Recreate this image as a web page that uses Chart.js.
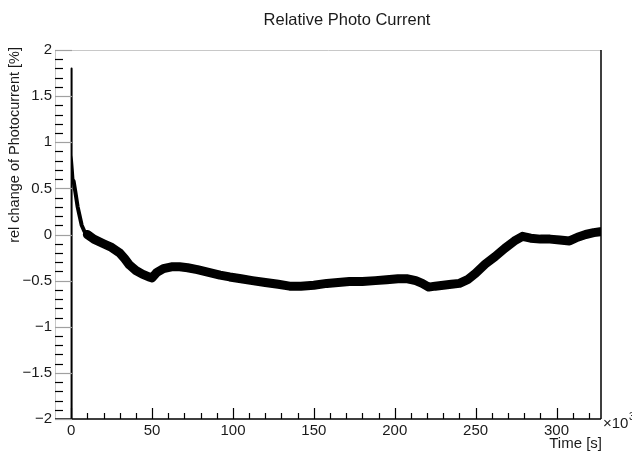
<!DOCTYPE html>
<html>
<head>
<meta charset="utf-8">
<script src="https://cdn.jsdelivr.net/npm/chart.js@4/dist/chart.umd.min.js"></script>
<style>
  html, body { margin: 0; padding: 0; background: #fff; }
  canvas { display: block; }
</style>
</head>
<body>
<canvas id="photoChart" width="632" height="454"></canvas>
<script>
// time in units of 10^3 s
const times = [0, 0, 0.5, 1, 1.5, 2.5, 4, 5, 6.5, 8, 10, 14, 20, 25, 30, 33, 36, 40, 44, 48,
  50, 53, 57, 62, 67, 72, 78, 85, 92, 98, 105, 112, 120, 128, 135, 142, 150, 158, 165, 172,
  180, 188, 195, 202, 208, 213, 217, 221, 225, 230, 235, 240, 245, 250, 256, 262, 268, 274,
  279, 284, 290, 296, 302, 308, 313, 318, 323, 327];
// relative change of photocurrent in %
const relChange = [-2.5, 1.8, 0.86, 0.7, 0.58, 0.47, 0.3, 0.22, 0.1, 0.04, 0.0, -0.05, -0.1, -0.14, -0.2, -0.26, -0.33, -0.39, -0.43, -0.46,
  -0.47, -0.41, -0.37, -0.35, -0.35, -0.36, -0.38, -0.41, -0.44, -0.46, -0.48, -0.5, -0.52, -0.54, -0.56, -0.56, -0.55, -0.53, -0.52, -0.51,
  -0.51, -0.5, -0.49, -0.48, -0.48, -0.5, -0.53, -0.57, -0.56, -0.55, -0.54, -0.53, -0.49, -0.42, -0.32, -0.24, -0.15, -0.07,
  -0.02, -0.04, -0.05, -0.05, -0.06, -0.07, -0.03, 0.0, 0.02, 0.03];

const xTicks = [0, 50, 100, 150, 200, 250, 300];
const yTicks = [-2, -1.5, -1, -0.5, 0, 0.5, 1, 1.5, 2];
const yTickLabels = ['\u22122', '\u22121.5', '\u22121', '\u22120.5', '0', '0.5', '1', '1.5', '2'];

const FONT = 'Liberation Sans, Arial, sans-serif';
const TEXT = '#1a1a1a';

// frame, inner ticks and titles, ROOT style
const rootFrame = {
  id: 'rootFrame',
  afterDraw(chart) {
    const { ctx, chartArea: a, scales: { x, y } } = chart;
    ctx.save();
    ctx.lineCap = 'butt';

    // frame
    ctx.lineWidth = 1;
    ctx.strokeStyle = '#c8c8c8';
    ctx.beginPath();
    ctx.moveTo(a.left + 0.5, a.bottom); ctx.lineTo(a.left + 0.5, a.top + 0.5);
    ctx.lineTo(a.right, a.top + 0.5);
    ctx.stroke();
    ctx.strokeStyle = '#000';
    ctx.lineWidth = 1.5;
    ctx.beginPath();
    ctx.moveTo(a.right, a.top); ctx.lineTo(a.right, a.bottom);
    ctx.moveTo(a.left, a.bottom); ctx.lineTo(a.right, a.bottom);
    ctx.stroke();

    // x ticks (major 50, minor 10)
    ctx.lineWidth = 1.2;
    ctx.strokeStyle = '#000';
    ctx.beginPath();
    for (let v = 0; v <= x.max; v += 10) {
      const px = Math.round(x.getPixelForValue(v)) + 0.5;
      const len = v % 50 === 0 ? 11 : 6;
      ctx.moveTo(px, a.bottom); ctx.lineTo(px, a.bottom - len);
    }
    ctx.stroke();

    // y ticks (major 0.5 gray, minor 0.1 black)
    for (let i = -20; i <= 20; i++) {
      const py = Math.round(y.getPixelForValue(i / 10)) + 0.5;
      const major = i % 5 === 0;
      ctx.strokeStyle = major ? '#a0a0a0' : '#000';
      ctx.beginPath();
      ctx.moveTo(a.left, py); ctx.lineTo(a.left + (major ? 17 : 8), py);
      ctx.stroke();
    }

    // titles
    ctx.fillStyle = TEXT;
    ctx.font = '16.5px ' + FONT;
    ctx.textAlign = 'center';
    ctx.textBaseline = 'middle';
    ctx.fillText('Relative Photo Current', 347, 20);

    ctx.font = '15px ' + FONT;
    ctx.textAlign = 'right';
    ctx.fillText('Time [s]', a.right + 1, 444);
    ctx.textAlign = 'left';
    ctx.fillText('\u00d710', a.right + 2, 424);
    ctx.font = '10px ' + FONT;
    ctx.fillText('3', a.right + 2 + 26, 417);

    ctx.font = '14.5px ' + FONT;
    ctx.translate(15, a.top - 3);
    ctx.rotate(-Math.PI / 2);
    ctx.textAlign = 'right';
    ctx.fillText('rel change of Photocurrent [%]', 0, 0);
    ctx.restore();
  }
};

new Chart(document.getElementById('photoChart'), {
  type: 'line',
  data: {
    datasets: [{
      data: times.map((t, i) => ({ x: t, y: relChange[i] })),
      borderColor: '#000',
      borderWidth: 9,
      borderJoinStyle: 'round',
      borderCapStyle: 'round',
      pointRadius: 0,
      tension: 0,
      segment: {
        borderWidth: c => c.p1.parsed.x <= 1.5 ? 2 : (c.p1.parsed.x <= 10 ? 4 : 9)
      }
    }]
  },
  options: {
    responsive: false,
    animation: false,
    devicePixelRatio: 1,
    layout: { padding: { top: 50, right: 31, left: 0, bottom: 0 } },
    plugins: { legend: { display: false }, tooltip: { enabled: false } },
    scales: {
      x: {
        type: 'linear',
        min: -10,
        max: 327.5,
        grid: { display: false, drawTicks: false },
        border: { display: false },
        afterBuildTicks: s => { s.ticks = xTicks.map(v => ({ value: v })); },
        afterFit: s => { s.height = 35; },
        ticks: { color: TEXT, font: { family: FONT, size: 15 }, padding: 3, maxRotation: 0, autoSkip: false }
      },
      y: {
        type: 'linear',
        min: -2,
        max: 2,
        grid: { display: false, drawTicks: false },
        border: { display: false },
        afterBuildTicks: s => { s.ticks = yTicks.map(v => ({ value: v })); },
        afterFit: s => { s.width = 55; },
        ticks: {
          color: TEXT, font: { family: FONT, size: 15 }, padding: 3, autoSkip: false,
          callback: v => yTickLabels[yTicks.indexOf(v)]
        }
      }
    }
  },
  plugins: [rootFrame]
});
</script>
</body>
</html>
